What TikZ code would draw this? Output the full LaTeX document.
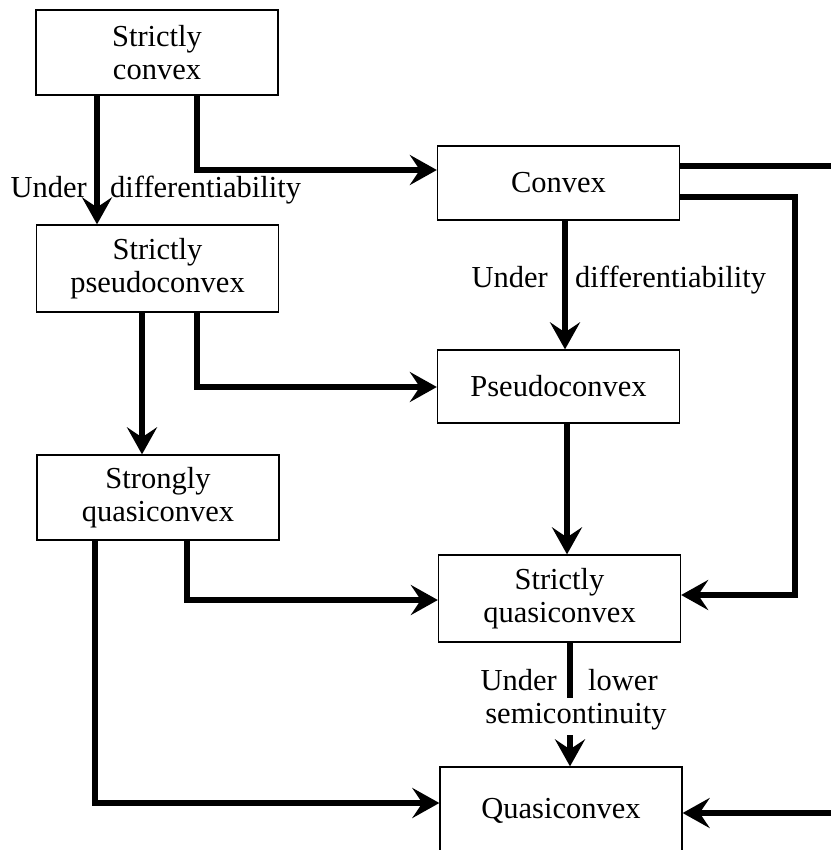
\documentclass[tikz,border=0pt]{standalone}
\usepackage{fontspec}
\setmainfont{Liberation Serif}
\usetikzlibrary{arrows.meta}
\begin{document}
\begin{tikzpicture}[x=1pt,y=-1pt,
  box/.style={draw, line width=1.3pt, minimum width=242pt, inner sep=0pt, align=center, font=\fontsize{30.5}{33.5}\selectfont},
  conn/.style={line width=6.5pt, -{Stealth[length=27pt,width=30pt,inset=10pt]}},
  link/.style={line width=6.5pt},
  lbl/.style={font=\fontsize{30.5}{33.5}\selectfont, inner sep=0pt}]
\useasboundingbox (0,0) rectangle (830,850);
% boxes
\node[box, minimum height=85pt] (sc)   at (157,52.5)  {Strictly\\convex};
\node[box, minimum height=87pt] (spc)  at (157.5,268.5) {Strictly\\pseudoconvex};
\node[box, minimum height=85pt] (sqc)  at (158,497.5) {Strongly\\quasiconvex};
\node[box, minimum height=74pt] (cvx)  at (558.5,183) {Convex};
\node[box, minimum height=73pt] (pcx)  at (558.5,386.5) {Pseudoconvex};
\node[box, minimum height=87pt] (sqcx) at (559.5,598.5) {Strictly\\quasiconvex};
\node[box, minimum height=88pt] (qcx)  at (561,811) {Quasiconvex};
% helper coordinates
\coordinate (c97) at (97,0);
\coordinate (c197) at (197,0);
\coordinate (c142) at (142,0);
\coordinate (c187) at (187,0);
\coordinate (c95) at (95,0);
\coordinate (c565) at (565,0);
\coordinate (c567) at (567,0);
\coordinate (c570) at (570,0);
\coordinate (r170) at (0,170);
\coordinate (r387) at (0,387);
\coordinate (r600) at (0,600);
\coordinate (r803) at (0,803);
\coordinate (r197) at (0,197);
\coordinate (k1) at (795,595);
\coordinate (eR1) at (840,166);
\coordinate (eR2) at (840,813);
% connectors
\draw[conn] (sc.south -| c97) -- (spc.north -| c97);
\draw[conn] (sc.south -| c197) |- (cvx.west |- r170);
\draw[conn] (cvx.south -| c565) -- (pcx.north -| c565);
\draw[link] (cvx.east |- eR1) -- (eR1);
\draw[conn] (cvx.east |- r197) -| (k1) -- (sqcx.east |- k1);
\draw[conn] (spc.south -| c142) -- (sqc.north -| c142);
\draw[conn] (spc.south -| c197) |- (pcx.west |- r387);
\draw[conn] (pcx.south -| c567) -- (sqcx.north -| c567);
\draw[conn] (sqc.south -| c187) |- (sqcx.west |- r600);
\draw[conn] (sqc.south -| c95) |- (qcx.west |- r803);
\draw[conn] (sqcx.south -| c570) -- (qcx.north -| c570);
\draw[conn] (eR2) -- (qcx.east |- eR2);
% labels
\node[lbl, anchor=base east] (l1a) at (87,198) {Under};
\node[lbl, anchor=base west] (l1b) at (110,198) {differentiability};
\node[lbl, anchor=base east] (l2a) at (548,287) {Under};
\node[lbl, anchor=base west] (l2b) at (575,287) {differentiability};
\node[lbl, anchor=base east] (l3a) at (557,690) {Under};
\node[lbl, anchor=base west] (l3b) at (588,690) {lower};
\node[lbl, anchor=base, fill=white, text height=22pt, text depth=9pt, inner ysep=3pt] (l3c) at (576,723) {semicontinuity};
\end{tikzpicture}
\end{document}
